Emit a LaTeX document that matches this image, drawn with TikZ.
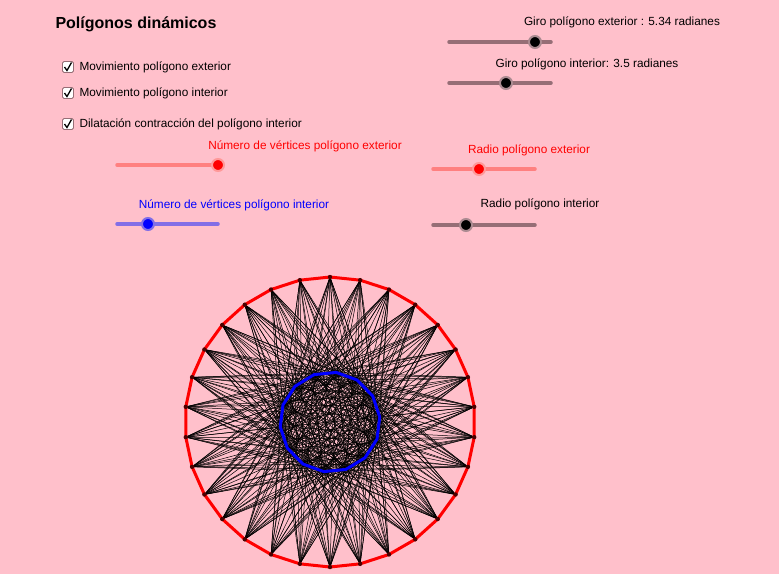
\documentclass[tikz,border=0pt]{standalone}
\usepackage{fontspec}
\setmainfont{Liberation Sans}
\usetikzlibrary{calc}
\definecolor{fondo}{RGB}{255,192,203}
\definecolor{barra}{RGB}{150,110,118}
\definecolor{barrav}{RGB}{130,110,230}
\begin{document}
\begin{tikzpicture}[x=1pt,y=-1pt,
                    line width=1pt,
                    ]
    \tikzstyle{etiqueta}=[font=\fontsize{11.8}{13}\selectfont,inner sep=0pt]
    \tikzstyle{caja}=[draw=barra,fill=white,rounded corners=1.5pt,minimum size=11pt,inner sep=0pt,line width=0.8pt]
    \tikzstyle{barra}=[line width=3.5pt,line cap=round,draw=barra]
    \tikzstyle{perilla}=[circle,fill=black,draw=barra!80,line width=2pt,minimum size=12pt,inner sep=0pt]

    \fill[fondo] (0,0) rectangle (779,574);
    \useasboundingbox (0,0) rectangle (779,574);

    \node[anchor=west,font=\fontsize{16}{18}\selectfont\bfseries,inner sep=0pt] (titulo) at (55,24) {Polígonos dinámicos};

    % casillas
    \foreach \y/\t/\n in {67/Movimiento polígono exterior/a, 93/Movimiento polígono interior/b, 124/Dilatación contracción del polígono interior/c}{
        \node[caja] (caja\n) at (68,\y) {};
        \draw[line width=1.3pt] ([shift={(-3.5,0)}]caja\n.center) -- ([shift={(-1,3.5)}]caja\n.center) -- ([shift={(3.5,-4.5)}]caja\n.center);
        \node[etiqueta,anchor=west] (txt\n) at (79,\y) {\t};
    }

    % deslizadores
    \node[etiqueta] (giroext) at (622,22) {Giro polígono exterior : 5.34 radianes};
    \draw[barra] (449,42) -- (551,42);
    \node[perilla] (k1) at (535,42) {};
    \node[etiqueta] (giroint) at (587,64) {Giro polígono interior: 3.5 radianes};
    \draw[barra] (449,83) -- (551,83);
    \node[perilla] (k2) at (506,83) {};

    \node[etiqueta,red] (nvext) at (305,146) {Número de vértices polígono exterior};
    \draw[barra,draw=red!50] (117,165) -- (218,165);
    \node[perilla,fill=red,draw=red!40] (k3) at (218,165) {};
    \node[etiqueta,red] (rext) at (529,150) {Radio polígono exterior};
    \draw[barra,draw=red!50] (433,169) -- (535,169);
    \node[perilla,fill=red,draw=red!40] (k4) at (479,169) {};

    \node[etiqueta,blue] (nvint) at (234,205) {Número de vértices polígono interior};
    \draw[barra,draw=barrav] (117,224) -- (218,224);
    \node[perilla,fill=blue,draw=barrav] (k5) at (148,224) {};
    \node[etiqueta] (rint) at (540,204) {Radio polígono interior};
    \draw[barra] (433,225) -- (535,225);
    \node[perilla] (k6) at (466,225) {};

    % poligonos
    \coordinate (centro) at (330,422);
    \foreach \i in {0,...,29}
        \coordinate (o\i) at ($(centro)+({90+12*\i}:145)$);
    \foreach \j in {0,...,13}
        \coordinate (n\j) at ($(centro)+({200+360/14*\j}:50)$);
    \foreach \i in {0,...,29}
        \foreach \j in {0,...,13}
            \draw[line width=0.5pt,black] (o\i) -- (n\j);
    \draw[red,line width=3pt,line join=round] (o0) \foreach \i in {1,...,29}{ -- (o\i)} -- cycle;
    \draw[blue,line width=3pt,line join=round] (n0) \foreach \j in {1,...,13}{ -- (n\j)} -- cycle;
    \foreach \i in {0,...,29}
        \fill[black!70!red] (o\i) circle (2.2);
\end{tikzpicture}
\end{document}
